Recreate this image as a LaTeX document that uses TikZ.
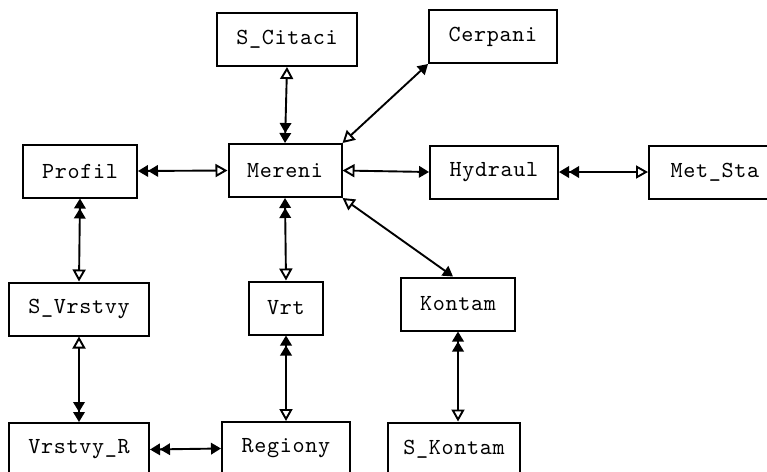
\documentclass[tikz,border=0pt]{standalone}
\usepackage{fontspec}
\newfontfamily\boxfont[LetterSpace=3]{lmmono10-regular.otf}
\usetikzlibrary{arrows.meta}
\tikzset{
  box/.style={draw, line width=2pt, inner sep=0pt, minimum height=53pt,
    font=\boxfont\fontsize{23}{23}\selectfont},
  conn/.style={line width=1.9pt},
  SF/.tip={Triangle[length=10pt,width=11.5pt]},
  DF/.tip={Triangle[length=10pt,width=11.5pt]Triangle[length=10pt,width=11.5pt]},
  OT/.tip={Triangle[open,length=12pt,width=13pt,fill=white]},
}
\begin{document}
\begin{tikzpicture}[x=1pt,y=-1pt]
\useasboundingbox (0,0) rectangle (767,471);
\clip (0,0) rectangle (767,471);
% nodes
\node[box, minimum width=140pt] (scitaci) at (287,39.5) {S\_Citaci};
\node[box, minimum width=128pt] (cerpani) at (493,36.5) {Cerpani};
\node[box, minimum width=113pt] (mereni) at (285,170.5) {Mereni};
\node[box, minimum width=128pt] (hydraul) at (494,172) {Hydraul};
\node[box, minimum width=132pt] (metsta) at (715,172) {Met\_Sta};
\node[box, minimum width=114pt] (profil) at (80,171) {Profil};
\node[box, minimum width=140pt] (svrstvy) at (79,309) {S\_Vrstvy};
\node[box, minimum width=74pt] (vrt) at (286,308) {Vrt};
\node[box, minimum width=114pt] (kontam) at (458,304) {Kontam};
\node[box, minimum width=140pt] (vrstvyr) at (79,449.5) {Vrstvy\_R};
\node[box, minimum width=128pt] (regiony) at (286,448.5) {Regiony};
\node[box, minimum width=132pt] (skontam) at (454,449) {S\_Kontam};
% connectors
\draw[conn, {OT}-{DF}] (scitaci.south) -- (mereni.north);
\draw[conn, {OT}-{SF}] (mereni.north east) -- (cerpani.south west);
\draw[conn, {DF}-{OT}] (profil.east) -- (mereni.west);
\draw[conn, {OT}-{SF}] (mereni.east) -- (hydraul.west);
\draw[conn, {DF}-{OT}] (hydraul.east) -- (metsta.west);
\draw[conn, {OT}-{SF}] (mereni.south east) -- ([xshift=-5pt]kontam.north);
\draw[conn, {DF}-{OT}] (profil.south) -- (svrstvy.north);
\draw[conn, {DF}-{OT}] (mereni.south) -- (vrt.north);
\draw[conn, {OT}-{DF}] (svrstvy.south) -- (vrstvyr.north);
\draw[conn, {DF}-{OT}] (vrt.south) -- (regiony.north);
\draw[conn, {DF}-{SF}] (vrstvyr.east) -- (regiony.west);
\draw[conn, {DF}-{OT}] (kontam.south) -- (kontam.south |- skontam.north);
\end{tikzpicture}
\end{document}
